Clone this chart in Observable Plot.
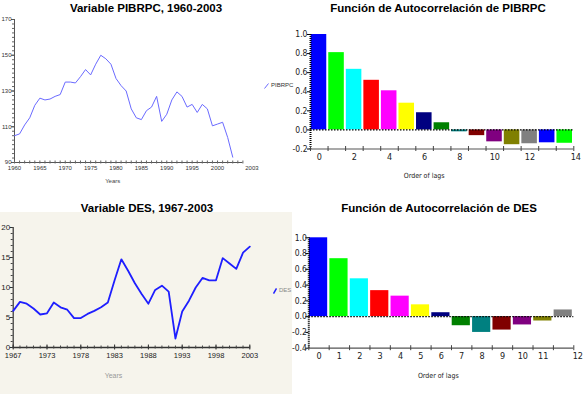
<!DOCTYPE html>
<html><head><meta charset="utf-8">
<script src="https://cdn.jsdelivr.net/npm/d3@7"></script>
<script src="https://cdn.jsdelivr.net/npm/@observablehq/plot@0.6"></script>
<style>
body{margin:0;background:#fff;}
#root{position:relative;width:587px;height:394px;overflow:hidden;font-family:"Liberation Sans",Arial,sans-serif;}
.title{position:absolute;font-weight:bold;font-size:11.5px;line-height:12px;white-space:nowrap;transform:translateX(-50%);color:#000;}
.legend{position:absolute;font-size:6px;line-height:7px;white-space:nowrap;color:#333;display:flex;align-items:center;gap:2px;}
.bg{position:absolute;background:#f6f4ec;}
</style></head>
<body><div id="root"></div>
<script>
// ---------- DATA ----------
const pibYears = [1960,1961,1962,1963,1964,1965,1966,1967,1968,1969,1970,1971,1972,1973,1974,1975,1976,1977,1978,1979,1980,1981,1982,1983,1984,1985,1986,1987,1988,1989,1990,1991,1992,1993,1994,1995,1996,1997,1998,1999,2000,2001,2002,2003];
const pibValues = [105,106,111,115,122,126,125,125.5,127,128,135,135,134.5,138,142,139,145,150,148,145,137,133,130,120,115,114,119,121,127,113,117,125,129.5,127,121,122.5,118,122.5,120,110.5,111.5,112.5,104,93];
const pibYTicks = [90,110,130,150,170];
const pibXTicks = [1960,1965,1970,1975,1980,1985,1990,1995,2000];
const pibXEnd = 2005, pibXEndLabel = "2003";

const desYears = [1968,1969,1970,1971,1972,1973,1974,1975,1976,1977,1978,1979,1980,1981,1982,1983,1984,1985,1986,1987,1988,1989,1990,1991,1992,1993,1994,1995,1996,1997,1998,1999,2000,2001,2002,2003];
const desValues = [6.1,7.6,7.3,6.5,5.5,5.7,7.5,6.7,6.3,4.9,4.9,5.6,6.1,6.7,7.5,11.2,14.7,12.8,10.7,8.9,7.3,9.6,10.3,9.3,1.5,6.0,7.8,10.0,11.6,11.2,11.2,14.9,14.0,13.1,15.8,16.8];
const desYTicks = [0,5,10,15,20];
const desXTicks = [1968,1973,1978,1983,1988,1993,1998,2003];
const desXLabels = ["1967","1973","1978","1983","1988","1993","1998","2003"];

const acfColors = ["#0000ff","#00ff00","#00ffff","#ff0000","#ff00ff","#ffff00","#000080","#008000","#008080","#800000","#800080","#808000","#808080","#0000ff","#00ff00"];
const pibLags = [0,1,2,3,4,5,6,7,8,9,10,11,12,13,14];
const pibAcf = [1.0,0.81,0.635,0.52,0.41,0.28,0.18,0.075,-0.02,-0.06,-0.125,-0.155,-0.145,-0.135,-0.14];
const pibLagLabels = [0,2,4,6,8,10,12];
const pibLagEnd = 14.5, pibLagEndLabel = "14";
const acfYTicksTop = [-0.2,0,0.2,0.4,0.6,0.8,1.0];

const desLags = [0,1,2,3,4,5,6,7,8,9,10,11,12];
const desAcf = [1.0,0.735,0.48,0.33,0.26,0.15,0.05,-0.115,-0.2,-0.17,-0.105,-0.055,0.085];
const desLagLabels = [0,1,2,3,4,5,6,7,8,9,10,11];
const desLagEnd = 12.5, desLagEndLabel = "12";
const acfYTicksBot = [-0.4,-0.2,0,0.2,0.4,0.6,0.8,1.0];

// ---------- HELPERS ----------
const F = '"Liberation Sans", Arial, sans-serif';
const FN = '"Liberation Sans Narrow", "Arial Narrow", "DejaVu Sans Condensed", sans-serif';
const root = document.getElementById("root");
function place(el, left, top){ el.style.position="absolute"; el.style.left=left+"px"; el.style.top=top+"px"; root.appendChild(el); }
function div(cls, html, left, top){ const d=document.createElement("div"); d.className=cls; d.innerHTML=html; place(d,left,top); return d; }

// beige background of the bottom-left panel
const bg = document.createElement("div"); bg.className="bg"; bg.style.width="292px"; bg.style.height="182px"; place(bg,0,212);

const pibData = pibYears.map((year,i)=>({year, value: pibValues[i]}));
const desData = desYears.map((year,i)=>({year, value: desValues[i]}));
const pibAcfData = pibLags.map((lag,i)=>({lag, acf: pibAcf[i], color: acfColors[i]}));
const desAcfData = desLags.map((lag,i)=>({lag, acf: desAcf[i], color: acfColors[i]}));

// ---------- PANEL 1: PIBRPC line ----------
const p1 = Plot.plot({
  width: 290, height: 195,
  marginLeft: 14, marginRight: 47.6, marginTop: 19, marginBottom: 33,
  x: {domain: [1960, pibXEnd], axis: null},
  y: {domain: [90, 170], axis: null},
  style: {fontFamily: F, background: "transparent", overflow: "visible", color: "#333"},
  marks: [
    Plot.ruleX([1960], {stroke: "#555"}),
    Plot.ruleY([90], {stroke: "#555"}),
    Plot.axisY({ticks: d3.range(90, 170.1, 2.5), tickSize: 2, text: null, label: null, stroke: "#666"}),
    Plot.axisY({ticks: pibYTicks, tickSize: 3, tickPadding: 0, fontSize: 6, label: null, tickFormat: "d", stroke: "#555", fill: "#333"}),
    Plot.axisX({ticks: d3.range(1960, pibXEnd + 1, 1), tickSize: 3, dy: -1.5, text: null, label: null, stroke: "#666"}),
    Plot.axisX({ticks: pibXTicks, tickSize: 0, tickPadding: 3, fontSize: 6, label: null, tickFormat: "d", fill: "#333"}),
    Plot.axisX({ticks: [pibXEnd], tickSize: 0, tickPadding: 3, fontSize: 6, dx: 9, label: null, tickFormat: () => pibXEndLabel, fill: "#333"}),
    Plot.text(["Years"], {frameAnchor: "bottom", dy: 20, dx: -16, fontSize: 6, fill: "#444"}),
    Plot.line(pibData, {x: "year", y: "value", stroke: "#6a6aff", strokeWidth: 1})
  ]
});
place(p1, 0, 0);

// ---------- PANEL 2: ACF PIBRPC ----------
const p2 = Plot.plot({
  width: 297, height: 195,
  marginLeft: 20, marginRight: 13.7, marginTop: 34, marginBottom: 46.5,
  x: {domain: [-0.5, pibLagEnd], axis: null},
  y: {domain: [-0.2, 1.0], axis: null},
  style: {fontFamily: FN, background: "transparent", overflow: "visible", color: "#222"},
  marks: [
    Plot.rectY(pibAcfData, {x1: d => d.lag - 0.5, x2: d => d.lag + 0.5, y: "acf", fill: "color", insetLeft: 0.7, insetRight: 1.3}),
    Plot.ruleY([0], {stroke: "#000", strokeWidth: 1.2, strokeDasharray: "1.5,1.5"}),
    Plot.ruleY([-0.2], {stroke: "#555", strokeWidth: 1.2}),
    Plot.ruleX([-0.5], {stroke: "#000", strokeWidth: 2, strokeDasharray: "1,1"}),
    Plot.axisY({ticks: acfYTicksTop, tickSize: 3, text: null, label: null, stroke: "#000"}),
    Plot.axisY({ticks: acfYTicksTop, tickSize: 0, tickPadding: 3, fontSize: 8.5, label: null, tickFormat: d => d.toFixed(1), fill: "#222"}),
    Plot.axisX({ticks: d3.range(-0.5, pibLagEnd + 0.01, 1), tickSize: 5, dy: -2.5, text: null, label: null, stroke: "#444"}),
    Plot.axisX({ticks: pibLagLabels, tickSize: 0, tickPadding: 5, fontSize: 9, label: null, tickFormat: "d", fill: "#222"}),
    Plot.axisX({ticks: [pibLagEnd], tickSize: 0, tickPadding: 5, fontSize: 9, dx: 2, label: null, tickFormat: () => pibLagEndLabel, fill: "#222"}),
    Plot.text(["Order of lags"], {frameAnchor: "bottom", dy: 28.5, dx: -18, fontSize: 7, fill: "#222"})
  ]
});
place(p2, 290, 0);

// ---------- PANEL 3: DES line ----------
const desLabelMap = new Map(desXTicks.map((t,i)=>[t, desXLabels[i]]));
const p3 = Plot.plot({
  width: 290, height: 199,
  marginLeft: 12.7, marginRight: 40.7, marginTop: 32, marginBottom: 47,
  x: {domain: [1968, 2003], axis: null},
  y: {domain: [0, 20], axis: null},
  style: {fontFamily: F, background: "transparent", overflow: "visible", color: "#222"},
  marks: [
    Plot.ruleX([1968], {stroke: "#333", strokeWidth: 1.2}),
    Plot.ruleY([0], {stroke: "#333", strokeWidth: 1.5}),
    Plot.axisY({ticks: d3.range(0, 20.1, 1), tickSize: 2, text: null, label: null, stroke: "#444"}),
    Plot.axisY({ticks: desYTicks, tickSize: 3, tickPadding: 0, fontSize: 8, label: null, tickFormat: "d", stroke: "#333", fill: "#222"}),
    Plot.axisX({ticks: d3.range(1968, 2003.1, 1), tickSize: 3, dy: -1.5, text: null, label: null, stroke: "#444"}),
    Plot.axisX({ticks: desXTicks, tickSize: 5, dy: -2.5, text: null, label: null, stroke: "#333"}),
    Plot.axisX({ticks: desXTicks, tickSize: 0, tickPadding: 5, fontSize: 7.5, label: null, tickFormat: d => desLabelMap.get(d), fill: "#222"}),
    Plot.text(["Years"], {frameAnchor: "bottom", dy: 30, dx: -18, fontSize: 7, fill: "#999"}),
    Plot.line(desData, {x: "year", y: "value", stroke: "#1e1eff", strokeWidth: 1.8})
  ]
});
place(p3, 0, 195);

// ---------- PANEL 4: ACF DES ----------
const p4 = Plot.plot({
  width: 297, height: 199,
  marginLeft: 18.3, marginRight: 13.7, marginTop: 42.3, marginBottom: 46.3,
  x: {domain: [-0.5, desLagEnd], axis: null},
  y: {domain: [-0.4, 1.0], axis: null},
  style: {fontFamily: FN, background: "transparent", overflow: "visible", color: "#222"},
  marks: [
    Plot.rectY(desAcfData, {x1: d => d.lag - 0.5, x2: d => d.lag + 0.5, y: "acf", fill: "color", insetLeft: 0.7, insetRight: 1.5}),
    Plot.ruleY([0], {stroke: "#000", strokeWidth: 1.2, strokeDasharray: "1.5,1.5"}),
    Plot.ruleY([-0.4], {stroke: "#555", strokeWidth: 1.2}),
    Plot.ruleX([-0.5], {stroke: "#000", strokeWidth: 2, strokeDasharray: "1,1"}),
    Plot.axisY({ticks: acfYTicksBot, tickSize: 3, text: null, label: null, stroke: "#000"}),
    Plot.axisY({ticks: acfYTicksBot, tickSize: 0, tickPadding: 2, fontSize: 8.5, label: null, tickFormat: d => d.toFixed(1), fill: "#222"}),
    Plot.axisX({ticks: d3.range(-0.5, desLagEnd + 0.01, 1), tickSize: 5, dy: -2.5, text: null, label: null, stroke: "#444"}),
    Plot.axisX({ticks: desLagLabels, tickSize: 0, tickPadding: 4.5, fontSize: 9, label: null, tickFormat: "d", fill: "#222"}),
    Plot.axisX({ticks: [desLagEnd], tickSize: 0, tickPadding: 4.5, fontSize: 9, dx: 4, label: null, tickFormat: () => desLagEndLabel, fill: "#222"}),
    Plot.text(["Order of lags"], {frameAnchor: "bottom", dy: 30, dx: -3, fontSize: 7, fill: "#222"})
  ]
});
place(p4, 290, 195);

// ---------- TITLES & LEGENDS ----------
div("title", "Variable PIBRPC, 1960-2003", 146, 2);
div("title", "Función de Autocorrelación de PIBRPC", 438, 2);
div("title", "Variable DES, 1967-2003", 147, 202);
div("title", "Función de Autocorrelación de DES", 439, 202);
div("legend", '<svg width="5" height="6"><line x1="0.5" y1="5.5" x2="4.5" y2="0.5" stroke="#6a6aff" stroke-width="1"/></svg><span>PIBRPC</span>', 264, 82);
div("legend", '<svg width="4" height="6"><line x1="0.5" y1="5.5" x2="3.5" y2="0.5" stroke="#1e1eff" stroke-width="1.5"/></svg><span style="color:#888">DES</span>', 273, 287);
</script>
</body></html>
